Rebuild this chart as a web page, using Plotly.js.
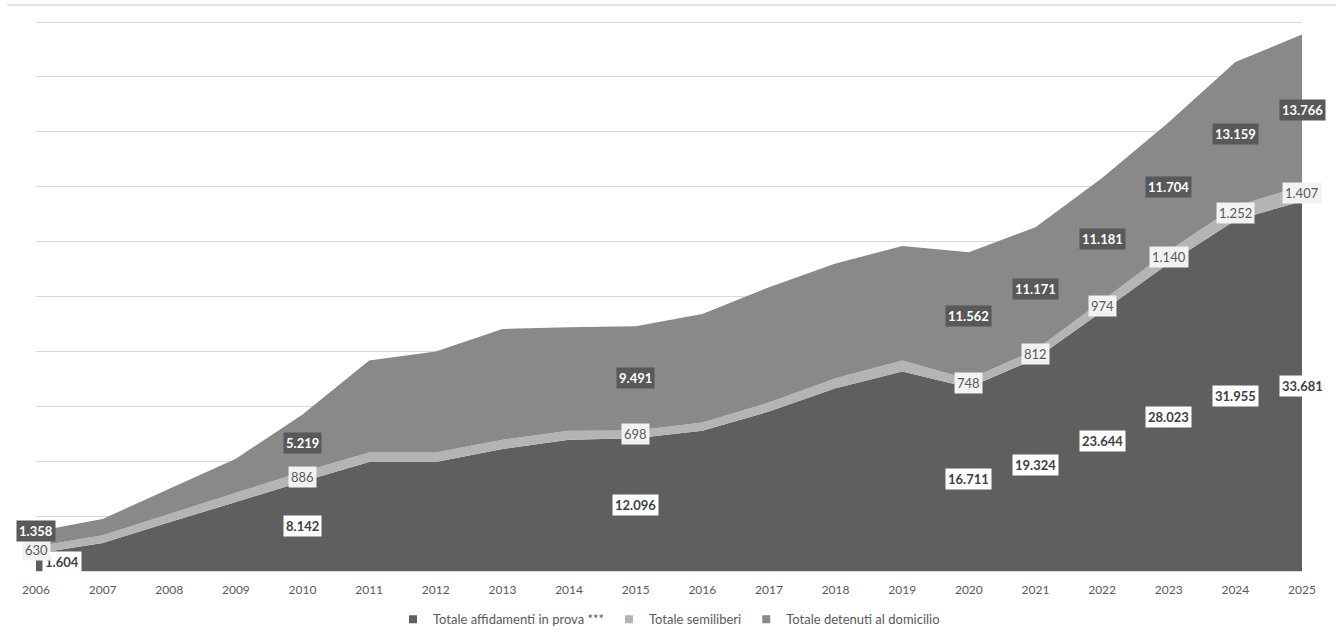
<!DOCTYPE html>
<html>
<head>
<meta charset="utf-8">
<script src="https://cdn.plot.ly/plotly-3.0.1.min.js"></script>
<style>
  html, body { margin: 0; padding: 0; background: #ffffff; }
  #chart { width: 1336px; height: 635px; }
</style>
</head>
<body>
<div id="chart"></div>
<script>
// ---- Data ----
const years = [2006, 2007, 2008, 2009, 2010, 2011, 2012, 2013, 2014, 2015,
               2016, 2017, 2018, 2019, 2020, 2021, 2022, 2023, 2024, 2025];

const affidamenti = [1604, 2560, 4430, 6290, 8142, 9930, 9930, 11110, 11950, 12096,
                     12770, 14530, 16650, 18160, 16711, 19324, 23644, 28023, 31955, 33681];

const semiliberi = [630, 690, 760, 840, 886, 870, 870, 845, 820, 698,
                    755, 820, 910, 1000, 748, 812, 974, 1140, 1252, 1407];

const domicilio = [1358, 1490, 2290, 3100, 5219, 8360, 9180, 10090, 9430, 9491,
                   9880, 10490, 10450, 10430, 11562, 11171, 11181, 11704, 13159, 13766];

const seriesNames = ["Totale affidamenti in prova ***", "Totale semiliberi", "Totale detenuti al domicilio"];

// Years whose values are printed as data labels
const labelYears = [2006, 2010, 2015, 2020, 2021, 2022, 2023, 2024, 2025];

// ---- Styles ----
const FONT = "Lato, 'Open Sans', sans-serif";
const colors = ["#5f5f5f", "#b4b4b4", "#898989"];

function fmt(v) {
  return String(v).replace(/\B(?=(\d{3})+(?!\d))/g, ".");
}

const series = [affidamenti, semiliberi, domicilio];

const traces = series.map((vals, i) => ({
  type: "scatter",
  mode: "none",
  x: years,
  y: vals,
  name: seriesNames[i],
  stackgroup: "one",
  fillcolor: colors[i],
  line: { width: 0 },
  showlegend: false,
  hoverinfo: "skip"
}));

// legend-only entries with square markers
seriesNames.forEach((n, i) => {
  traces.push({
    type: "scatter",
    mode: "markers",
    x: [null],
    y: [null],
    name: n,
    marker: { symbol: "square", size: 8, color: colors[i] },
    showlegend: true,
    hoverinfo: "skip"
  });
});

// ---- Data labels (centred inside each band) ----
const labelStyles = [
  { bg: "#ffffff", color: "#404040", bold: true },
  { bg: "#f2f2f2", color: "#595959", bold: false },
  { bg: "#595959", color: "#ffffff", bold: true }
];

const annotations = [];
labelYears.forEach(yr => {
  const idx = years.indexOf(yr);
  let base = 0;
  series.forEach((vals, s) => {
    const v = vals[idx];
    const st = labelStyles[s];
    const txt = st.bold ? "<b>" + fmt(v) + "</b>" : fmt(v);
    const a = {
      x: yr,
      y: base + v / 2,
      xref: "x",
      yref: "y",
      text: txt,
      showarrow: false,
      bgcolor: st.bg,
      borderpad: 2,
      font: { family: FONT, size: 13, color: st.color }
    };
    if (yr === 2006 && s === 0) { a.xshift = 26; }
    if (yr === 2006 && s === 2) { a.yshift = 8; }
    annotations.push(a);
    base += v;
  });
});

const layout = {
  width: 1336,
  height: 635,
  margin: { l: 36, r: 34, t: 17, b: 64, autoexpand: false },
  paper_bgcolor: "#ffffff",
  plot_bgcolor: "#ffffff",
  font: { family: FONT, size: 12, color: "#595959" },
  xaxis: {
    range: [2006, 2025],
    tickmode: "array",
    tickvals: years,
    ticktext: years.map(String),
    showgrid: false,
    zeroline: false,
    showline: true,
    linecolor: "#d9d9d9",
    linewidth: 1,
    ticks: "outside",
    ticklen: 8,
    tickcolor: "rgba(0,0,0,0)",
    tickfont: { family: FONT, size: 12, color: "#595959" },
    fixedrange: true
  },
  yaxis: {
    range: [0, 50455],
    tick0: 0,
    dtick: 5000,
    showticklabels: false,
    showgrid: true,
    gridcolor: "#d9d9d9",
    gridwidth: 1,
    zeroline: false,
    ticks: "",
    fixedrange: true
  },
  showlegend: true,
  legend: {
    orientation: "h",
    traceorder: "normal",
    x: 0.5,
    xanchor: "center",
    y: -0.06,
    yanchor: "top",
    font: { family: FONT, size: 13, color: "#595959" },
    itemwidth: 30,
    bgcolor: "rgba(0,0,0,0)"
  },
  shapes: [{
    type: "line",
    xref: "paper",
    yref: "paper",
    x0: -0.0229,
    x1: 1.03,
    y0: 1.0217,
    y1: 1.0217,
    line: { color: "#d9d9d9", width: 1.5 }
  }],
  annotations: annotations,
  hovermode: false
};

Plotly.newPlot("chart", traces, layout, { displayModeBar: false, staticPlot: true });
</script>
</body>
</html>
